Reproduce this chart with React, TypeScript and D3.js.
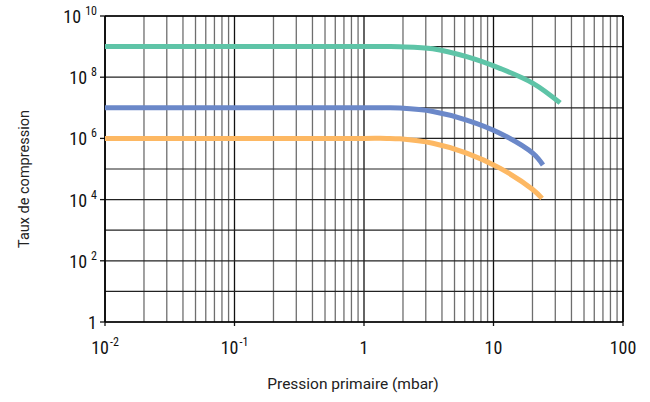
import React from "react";
import * as d3 from "d3";

const W = 650;
const H = 402;
const M = { left: 105, right: 27, top: 16, bottom: 80 };

// x: pressure (mbar); y given as log10 of compression ratio
const greenX = [0.01, 1, 1.5, 1.9, 3.4, 6.2, 11.2, 20.2, 32.7];
const greenLog = [9, 9, 9, 8.995, 8.93, 8.67, 8.29, 7.8, 7.16];
const blueX = [0.01, 1, 1.5, 1.9, 3.4, 6.2, 11.2, 20.2, 24.1];
const blueLog = [7, 7, 7, 6.99, 6.88, 6.6, 6.17, 5.51, 5.13];
const orangeX = [0.01, 1, 1.5, 1.9, 3.4, 6.2, 11.2, 20.2, 23.7];
const orangeLog = [6, 6, 6, 5.985, 5.84, 5.52, 5.03, 4.32, 4.04];

const xTicks = [0.01, 0.1, 1, 10, 100];
const xTickBase = ["10", "10", "1", "10", "100"];
const xTickExp = ["-2", "-1", "", "", ""];
const yTicks = [1, 1e2, 1e4, 1e6, 1e8, 1e10];
const yTickBase = ["1", "10", "10", "10", "10", "10"];
const yTickExp = ["", "2", "4", "6", "8", "10"];

const series = [
  { xs: greenX, ys: greenLog, color: "#5ec4a7" },
  { xs: blueX, ys: blueLog, color: "#6b88c9" },
  { xs: orangeX, ys: orangeLog, color: "#fdb863" },
];

const tickFont = "'Liberation Sans Narrow', 'Roboto Condensed', 'Arial Narrow', 'DejaVu Sans Condensed', sans-serif";

export default function App() {
  const x = d3.scaleLog().domain([0.01, 100]).range([M.left, W - M.right]);
  const y = d3.scaleLog().domain([1, 1e10]).range([H - M.bottom, M.top]);

  const minorX: number[] = [];
  for (let e = -2; e < 2; e++) {
    for (let k = 2; k <= 9; k++) minorX.push(k * 10 ** e);
  }
  const decY: number[] = [];
  for (let e = 0; e <= 10; e++) decY.push(10 ** e);

  const line = d3
    .line<[number, number]>()
    .x((d) => x(d[0]))
    .y((d) => y(10 ** d[1]))
    .curve(d3.curveCatmullRom.alpha(0.5));

  const [x0, x1] = x.range();
  const [y0, y1] = y.range();

  return (
    <svg width={W} height={H} style={{ position: "absolute", left: 0, top: 0, background: "#fff" }}>
      {minorX.map((v, i) => (
        <line key={"mx" + i} x1={x(v)} x2={x(v)} y1={y1} y2={y0} stroke="#6e6e6e" strokeWidth={1.3} />
      ))}
      {xTicks.map((v, i) => (
        <line key={"dx" + i} x1={x(v)} x2={x(v)} y1={y1} y2={y0 + 4} stroke="#111" strokeWidth={1.3} />
      ))}
      {decY.map((v, i) => (
        <line key={"hy" + i} x1={x0} x2={x1} y1={y(v)} y2={y(v)} stroke="#222" strokeWidth={1.2} />
      ))}
      {yTicks.map((v, i) => (
        <line key={"yt" + i} x1={x0 - 5} x2={x0} y1={y(v)} y2={y(v)} stroke="#111" strokeWidth={1.3} />
      ))}
      <line x1={x0} x2={x0} y1={y1} y2={y0} stroke="#000" strokeWidth={1.6} />
      <line x1={x0} x2={x1} y1={y0} y2={y0} stroke="#000" strokeWidth={1.6} />
      <line x1={x0} x2={x1} y1={y1} y2={y1} stroke="#000" strokeWidth={1.6} />
      <line x1={x1} x2={x1} y1={y1} y2={y0} stroke="#000" strokeWidth={1.6} />

      {series.map((s, i) => (
        <path
          key={"s" + i}
          d={line(s.xs.map((v, j) => [v, s.ys[j]] as [number, number])) || ""}
          fill="none"
          stroke={s.color}
          strokeWidth={5}
        />
      ))}

      {xTicks.map((v, i) => (
        <text
          key={"xl" + i}
          x={x(v)}
          y={H - M.bottom + 32}
          textAnchor="middle"
          fontFamily={tickFont}
          fontSize={18}
          fill="#111"
        >
          {xTickBase[i]}
          {xTickExp[i] && (
            <tspan fontSize={12} dy={-8} dx={1}>
              {xTickExp[i]}
            </tspan>
          )}
        </text>
      ))}

      {yTicks.map((v, i) => (
        <text
          key={"yl" + i}
          x={x0 - 8}
          y={y(v) + 7}
          textAnchor="end"
          fontFamily={tickFont}
          fontSize={18}
          fill="#111"
        >
          {yTickBase[i]}
          {yTickExp[i] && (
            <tspan fontSize={12} dy={-8} dx={4}>
              {yTickExp[i]}
            </tspan>
          )}
        </text>
      ))}

      <text
        x={353}
        y={389}
        textAnchor="middle"
        fontFamily="Roboto, sans-serif"
        fontSize={15.5}
        fill="#222"
      >
        Pression primaire (mbar)
      </text>
      <text
        transform={`translate(29, 179) rotate(-90)`}
        textAnchor="middle"
        fontFamily="Roboto, sans-serif"
        fontSize={14.5}
        fill="#222"
      >
        Taux de compression
      </text>
    </svg>
  );
}
